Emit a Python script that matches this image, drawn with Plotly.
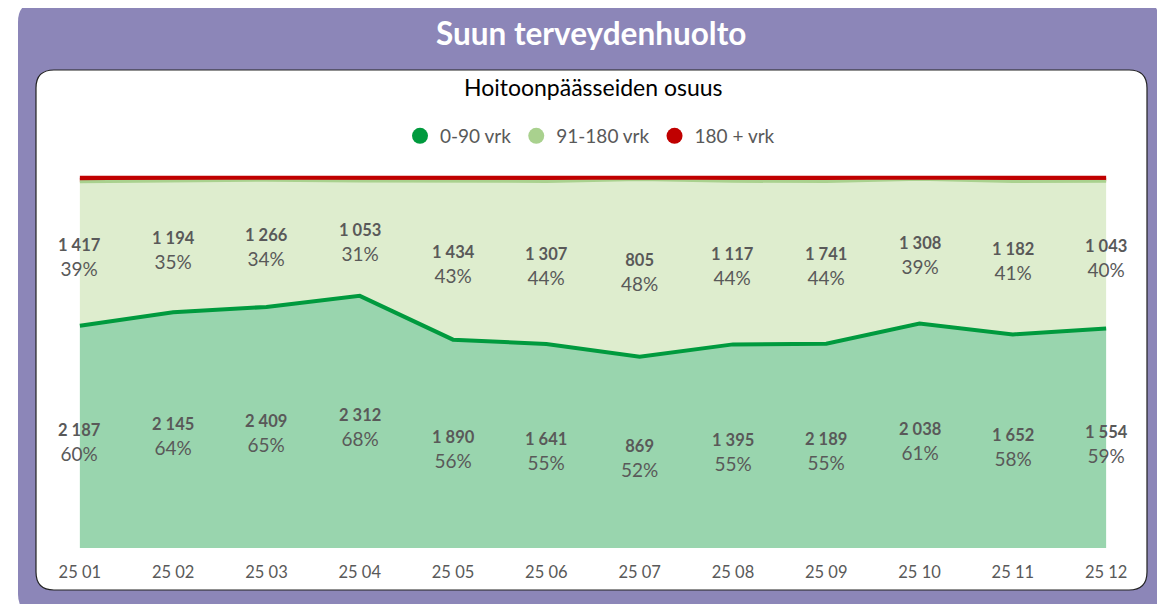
import plotly.graph_objects as go

# kuukaudet ja hoitoonpäässeiden määrät
months = ["25 01", "25 02", "25 03", "25 04", "25 05", "25 06",
          "25 07", "25 08", "25 09", "25 10", "25 11", "25 12"]
cnt_0_90 = [2187, 2145, 2409, 2312, 1890, 1641, 869, 1395, 2189, 2038, 1652, 1554]
cnt_91_180 = [1417, 1194, 1266, 1053, 1434, 1307, 805, 1117, 1741, 1308, 1182, 1043]
cnt_180_plus = [40, 30, 25, 30, 35, 30, 8, 25, 40, 15, 30, 25]  # arvioitu, ei näy kuvassa
pct_0_90 = [60, 64, 65, 68, 56, 55, 52, 55, 55, 61, 58, 59]
pct_91_180 = [39, 35, 34, 31, 43, 44, 48, 44, 44, 39, 41, 40]

# sivun body-marginaali 8px -> kuva pienemmäksi ja koordinaatit siirretään
OFF = 8
W, H = 1165 - OFF, 604 - OFF
L, R, T, B = 78 - OFF, 1108 - OFF, 174 - OFF, 548 - OFF


def px(x):
    return (x - OFF - L) / (R - L)


def py(y):
    return (B - (y - OFF)) / (B - T)


def rounded_rect(x0, y0, x1, y1, r):
    # pikseleinä (referenssin koordinaatit) -> paper-koordinaatit
    pts = [
        ("M", px(x0 + r), py(y0)),
        ("L", px(x1 - r), py(y0)),
        ("Q", px(x1), py(y0), px(x1), py(y0 + r)),
        ("L", px(x1), py(y1 - r)),
        ("Q", px(x1), py(y1), px(x1 - r), py(y1)),
        ("L", px(x0 + r), py(y1)),
        ("Q", px(x0), py(y1), px(x0), py(y1 - r)),
        ("L", px(x0), py(y0 + r)),
        ("Q", px(x0), py(y0), px(x0 + r), py(y0)),
    ]
    s = ""
    for p in pts:
        s += p[0] + " " + ",".join(f"{v:.5f}" for v in p[1:]) + " "
    return s + "Z"


xs = list(range(len(months)))
FONT = "Lato"
GRAY = "#595959"

fig = go.Figure()
fig.add_trace(go.Scatter(x=xs, y=cnt_0_90, stackgroup="a", groupnorm="percent",
                         mode="lines", line=dict(color="#009A3E", width=4),
                         fillcolor="#99D5AE", showlegend=False, hoverinfo="skip"))
fig.add_trace(go.Scatter(x=xs, y=cnt_91_180, stackgroup="a",
                         mode="lines", line=dict(color="#A9D18E", width=3),
                         fillcolor="#DEEDCE", showlegend=False, hoverinfo="skip"))
fig.add_trace(go.Scatter(x=xs, y=cnt_180_plus, stackgroup="a",
                         mode="lines", line=dict(color="#C00000", width=4),
                         fillcolor="#C00000", showlegend=False, hoverinfo="skip"))

# selitteen pallot
for name, col in [("0-90 vrk", "#009A3E"), ("91-180 vrk", "#A9D18E"), ("180 + vrk", "#C00000")]:
    fig.add_trace(go.Scatter(x=[None], y=[None], mode="markers", name=name,
                             marker=dict(size=19, color=col, symbol="circle")))


def label(n, p):
    cnt = f"{n:,}".replace(",", " ")
    return f"<span style='font-size:16.5px'><b>{cnt}</b></span><br>{p}%"


# arvojen tekstit
annotations = []
for i in xs:
    tot = cnt_0_90[i] + cnt_91_180[i] + cnt_180_plus[i]
    s0 = 100 * cnt_0_90[i] / tot
    s1 = 100 * cnt_91_180[i] / tot
    annotations.append(dict(x=i, y=s0 / 2, yshift=-6, showarrow=False,
                            text=label(cnt_0_90[i], pct_0_90[i]),
                            font=dict(family=FONT, size=19, color=GRAY)))
    annotations.append(dict(x=i, y=s0 + s1 / 2, yshift=-4, showarrow=False,
                            text=label(cnt_91_180[i], pct_91_180[i]),
                            font=dict(family=FONT, size=19, color=GRAY)))

annotations.append(dict(xref="paper", yref="paper", x=px(591), y=py(33),
                        xanchor="center", yanchor="middle", showarrow=False,
                        text="<b>Suun terveydenhuolto</b>",
                        font=dict(family=FONT, size=31.5, color="white")))
annotations.append(dict(xref="paper", yref="paper", x=px(593), y=py(87),
                        xanchor="center", yanchor="middle", showarrow=False,
                        text="Hoitoonpäässeiden osuus",
                        font=dict(family=FONT, size=23, color="black")))

shapes = [
    dict(type="path", xref="paper", yref="paper", layer="below",
         path=rounded_rect(18, 2, 1160, 614, 20),
         fillcolor="#8C86B8", line=dict(width=0)),
    dict(type="path", xref="paper", yref="paper", layer="below",
         path=rounded_rect(36, 70, 1147, 590, 18),
         fillcolor="white", line=dict(color="#222222", width=1.2)),
]

fig.update_layout(
    width=W, height=H,
    margin=dict(l=L, r=W - R, t=T, b=H - B),
    paper_bgcolor="white", plot_bgcolor="rgba(0,0,0,0)",
    shapes=shapes, annotations=annotations,
    legend=dict(orientation="h", traceorder="normal",
                x=px(590), xanchor="center", y=py(136), yanchor="middle",
                font=dict(family=FONT, size=19, color=GRAY), itemwidth=30,
                bgcolor="rgba(0,0,0,0)"),
    xaxis=dict(range=[-0.02, 11.02], tickvals=xs, ticktext=months, showgrid=False,
               zeroline=False, showline=False, ticks="", ticklabelstandoff=12,
               tickfont=dict(family=FONT, size=16.5, color=GRAY)),
    yaxis=dict(range=[0, 101], visible=False, showgrid=False, zeroline=False),
)

fig.write_html("out.html")
